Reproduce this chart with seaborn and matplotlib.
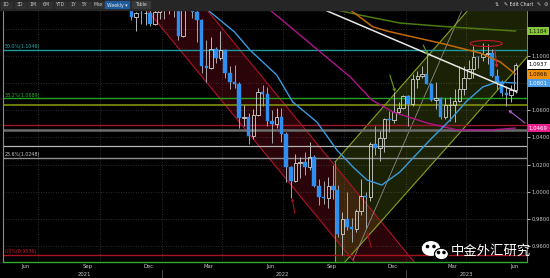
import matplotlib
matplotlib.use("Agg")
import matplotlib.pyplot as plt
import matplotlib.dates as mdates
from matplotlib.transforms import blended_transform_factory
from matplotlib.patches import Ellipse, Rectangle
import seaborn as sns
import numpy as np
import pandas as pd

# ---------------- data (EUR/USD weekly) ----------------
first_week = "2021-11-03"
opens = [1.1560, 1.1567, 1.1444, 1.1289, 1.1318, 1.1315, 1.1318, 1.1239, 1.1322,
         1.1370, 1.1359, 1.1411, 1.1345, 1.1146, 1.1456, 1.1349, 1.1322, 1.1268,
         1.0929, 1.0912, 1.1049, 1.0983, 1.1047, 1.0876, 1.0806, 1.0797, 1.0545,
         1.0552, 1.0412, 1.0563, 1.0733, 1.0720, 1.0518, 1.0496, 1.0553, 1.0423,
         1.0183, 1.0081, 1.0213, 1.0221, 1.0181, 1.0259, 1.0041, 0.9963, 0.9953,
         1.0043, 1.0014, 0.9690, 0.9802, 0.9740, 0.9723, 0.9861, 0.9965, 0.9958,
         1.0355, 1.0324, 1.0395, 1.0535, 1.0530, 1.0585, 1.0620, 1.0705, 1.0644,
         1.0830, 1.0856, 1.0868, 1.0796, 1.0678, 1.0694, 1.0548, 1.0636, 1.0640,
         1.0670, 1.0760, 1.0840, 1.0903, 1.0992, 1.0990, 1.1015, 1.1019, 1.0850,
         1.0805, 1.0724, 1.0709, 1.0750]
highs = [1.1616, 1.1607, 1.1465, 1.1325, 1.1383, 1.1355, 1.1360, 1.1362, 1.1386,
         1.1375, 1.1483, 1.1424, 1.1347, 1.1483, 1.1495, 1.1395, 1.1365, 1.1271,
         1.1121, 1.1137, 1.1069, 1.1185, 1.1054, 1.0924, 1.0936, 1.0805, 1.0641,
         1.0579, 1.0609, 1.0765, 1.0787, 1.0774, 1.0601, 1.0614, 1.0615, 1.0437,
         1.0186, 1.0279, 1.0254, 1.0294, 1.0368, 1.0272, 1.0090, 1.0079, 1.0112,
         1.0198, 1.0051, 0.9854, 0.9999, 0.9809, 0.9876, 1.0094, 1.0000, 1.0364,
         1.0481, 1.0448, 1.0545, 1.0595, 1.0736, 1.0660, 1.0714, 1.0713, 1.0868,
         1.0887, 1.0929, 1.1033, 1.0804, 1.0805, 1.0695, 1.0691, 1.0701, 1.0760,
         1.0930, 1.0926, 1.0973, 1.1076, 1.1000, 1.1095, 1.1092, 1.1054, 1.0904,
         1.0820, 1.0779, 1.0787, 1.0950]
lows = [1.1513, 1.1432, 1.1264, 1.1186, 1.1235, 1.1226, 1.1222, 1.1230, 1.1275,
        1.1272, 1.1313, 1.1286, 1.1121, 1.1140, 1.1340, 1.1281, 1.1106, 1.0878,
        1.0806, 1.0903, 1.0945, 1.0970, 1.0836, 1.0757, 1.0762, 1.0470, 1.0483,
        1.0349, 1.0389, 1.0558, 1.0628, 1.0485, 1.0359, 1.0469, 1.0366, 1.0072,
        0.9952, 1.0074, 1.0098, 1.0123, 1.0160, 1.0034, 0.9900, 0.9910, 0.9877,
        0.9944, 0.9669, 0.9536, 0.9717, 0.9632, 0.9705, 0.9826, 0.9730, 0.9935,
        1.0271, 1.0223, 1.0290, 1.0443, 1.0505, 1.0576, 1.0613, 1.0483, 1.0635,
        1.0766, 1.0835, 1.0795, 1.0669, 1.0613, 1.0533, 1.0533, 1.0524, 1.0516,
        1.0662, 1.0712, 1.0832, 1.0836, 1.0909, 1.0964, 1.0942, 1.0848, 1.0760,
        1.0702, 1.0635, 1.0664, 1.0725]
closes = [1.1567, 1.1444, 1.1289, 1.1318, 1.1315, 1.1318, 1.1239, 1.1322, 1.1370,
          1.1359, 1.1411, 1.1345, 1.1146, 1.1456, 1.1349, 1.1322, 1.1268, 1.0929,
          1.0912, 1.1049, 1.0983, 1.1047, 1.0876, 1.0806, 1.0797, 1.0545, 1.0552,
          1.0412, 1.0563, 1.0733, 1.0720, 1.0518, 1.0496, 1.0553, 1.0423, 1.0183,
          1.0081, 1.0213, 1.0221, 1.0181, 1.0259, 1.0041, 0.9963, 0.9953, 1.0043,
          1.0014, 0.9690, 0.9802, 0.9740, 0.9723, 0.9861, 0.9965, 0.9958, 1.0355,
          1.0324, 1.0395, 1.0535, 1.0530, 1.0585, 1.0620, 1.0705, 1.0644, 1.0830,
          1.0856, 1.0868, 1.0796, 1.0678, 1.0694, 1.0548, 1.0636, 1.0640, 1.0670,
          1.0760, 1.0840, 1.0903, 1.0992, 1.0990, 1.1015, 1.1019, 1.0850, 1.0805,
          1.0724, 1.0709, 1.0750, 1.0937]

# Fibonacci retracement levels
fib_levels = [1.1046, 1.0689, 1.0248, 0.9536]
fib_labels = ["50.0%(1.1046)", "38.2%(1.0689)", "23.6%(1.0248)", "0.0%(0.9536)"]
# other horizontal support / resistance lines
hline_levels = [1.0639, 1.0492, 1.0455, 1.0337]

# moving averages
ma_blue_dates = ["2022-02-27", "2022-03-11", "2022-04-20", "2022-05-13", "2022-06-22",
                 "2022-07-16", "2022-08-21", "2022-09-20", "2022-10-14", "2022-11-04",
                 "2022-11-26", "2022-12-23", "2023-02-06", "2023-03-08", "2023-04-02",
                 "2023-04-26", "2023-05-17", "2023-06-14"]
ma_blue_vals = [1.1413, 1.1339, 1.1177, 1.1044, 1.0860, 1.0661, 1.0514, 1.0307, 1.0182,
                1.0086, 1.0049, 1.0145, 1.0381, 1.0528, 1.0668, 1.0772, 1.0808, 1.0801]
ma_orange_dates = ["2022-10-10", "2022-11-13", "2022-12-04", "2022-12-23", "2023-02-21",
                   "2023-04-22", "2023-05-22", "2023-06-14"]
ma_orange_vals = [1.1339, 1.1214, 1.1184, 1.1162, 1.1096, 1.1022, 1.0956, 1.0866]
ma_magenta_dates = ["2022-06-12", "2022-10-10", "2022-11-11", "2022-12-13", "2023-02-02",
                    "2023-03-19", "2023-05-07", "2023-06-14"]
ma_magenta_vals = [1.1339, 1.0845, 1.0676, 1.0587, 1.0506, 1.0455, 1.0455, 1.0469]
ma_green_dates = ["2022-09-20", "2022-10-24", "2022-12-23", "2023-03-08", "2023-06-14"]
ma_green_vals = [1.1339, 1.1302, 1.1243, 1.1214, 1.1184]

# trend line & channels (anchor points)
trend_dates = ["2022-09-02", "2023-06-16"]
trend_vals = [1.1339, 1.0735]
red_lower_dates = ["2021-12-25", "2022-10-05"]
red_lower_vals = [1.12506, 0.95483]
red_upper_dates = ["2022-03-10", "2022-12-26"]
red_upper_vals = [1.1339, 0.95925]
green_upper_dates = ["2022-09-17", "2023-04-04"]
green_upper_vals = [1.02189, 1.1339]
green_lower_dates = ["2022-10-10", "2023-07-05"]
green_lower_vals = [0.95262, 1.10147]
green_mid_dates = ["2022-10-14", "2023-03-26"]
green_mid_vals = [0.94967, 1.1339]

# price tags on the right axis
tag_values = [1.1184, 1.0937, 1.0866, 1.0801, 1.0469]
y_ticks = [0.96, 0.98, 1.00, 1.02, 1.04, 1.06, 1.08, 1.10, 1.12]
y_tick_labels = ["0.9600", "0.9800", "1.0000", "1.0200", "1.0400", "1.0600", "", "1.1000", ""]
month_labels = ["Jun", "Sep", "Dec", "Mar", "Jun", "Sep", "Dec", "Mar", "Jun"]
month_dates = ["2021-06-12", "2021-09-12", "2021-12-12", "2022-03-12", "2022-06-12",
               "2022-09-12", "2022-12-12", "2023-03-12", "2023-06-12"]
year_labels = ["2021", "2022", "2023"]
year_dates = ["2021-09-08", "2022-06-30", "2023-04-01"]
grid_dates = ["2021-07-01", "2021-10-01", "2022-01-01", "2022-04-01", "2022-07-01",
              "2022-10-01", "2023-01-01", "2023-04-01"]
year_sep_dates = ["2022-01-01", "2023-01-01"]

# ---------------- style ----------------
sns.set_style("dark", {"axes.facecolor": "black", "figure.facecolor": "black"})
plt.rcParams["font.family"] = ["DejaVu Sans"]

def dn(lst):
    return mdates.date2num(pd.to_datetime(lst))

fig = plt.figure(figsize=(5.5, 2.78), dpi=100, facecolor="black")
ax = fig.add_axes([3 / 550, 16 / 278, 524 / 550, 252 / 278])
ax.set_facecolor("black")
ax.set_xlim(dn(["2021-05-09"])[0], dn(["2023-07-01"])[0])
ax.set_ylim(0.94820, 1.13390)
x0, x1 = ax.get_xlim()

# grid
ax.set_xticks(dn(grid_dates))
ax.set_xticklabels([])
ax.tick_params(axis="x", length=0)
ax.set_yticks(y_ticks)
ax.yaxis.tick_right()
ax.set_yticklabels(y_tick_labels)
ax.tick_params(axis="y", length=2, width=0.6, color="#d0d0d0", labelsize=3.8,
               labelcolor="#c8c8c8", pad=1)
ax.grid(True, color="#3a3a3a", linestyle=(0, (1, 2)), linewidth=0.6)
ax.spines["top"].set_visible(False)
ax.spines["left"].set_color("#8a8a8a")
ax.spines["left"].set_linewidth(0.8)
ax.spines["right"].set_color("#9a9a9a")
ax.spines["right"].set_linewidth(0.6)
ax.spines["bottom"].set_color("#2fa82f")
ax.spines["bottom"].set_linewidth(1.0)

def line_through(dates, vals, xa, xb):
    d = dn(dates)
    slope = (vals[1] - vals[0]) / (d[1] - d[0])
    xs = np.array([xa, xb])
    return xs, vals[0] + slope * (xs - d[0])

# red descending channel
xs, lo = line_through(red_lower_dates, red_lower_vals, dn(["2021-11-01"])[0], dn(["2023-02-01"])[0])
_, hi = line_through(red_upper_dates, red_upper_vals, xs[0], xs[1])
ax.fill_between(xs, lo, hi, color="#c0142c", alpha=0.22, lw=0, zorder=1)
ax.plot(xs, lo, color="#b0122a", lw=0.8, zorder=2)
ax.plot(xs, hi, color="#b0122a", lw=0.8, zorder=2)

# green ascending channel
gstart = dn(green_upper_dates)[0]
xs, gup = line_through(green_upper_dates, green_upper_vals, gstart, x1 + 20)
_, glo = line_through(green_lower_dates, green_lower_vals, gstart, x1 + 20)
ax.fill_between(xs, glo, gup, color="#8aa61c", alpha=0.2, lw=0, zorder=1)
ax.plot(xs, gup, color="#86a41c", lw=0.8, zorder=2)
ax.plot(xs, glo, color="#86a41c", lw=0.8, zorder=2)
ax.plot([gstart, gstart], [glo[0], gup[0]], color="#86a41c", lw=0.8, zorder=2)
xm, gm = line_through(green_mid_dates, green_mid_vals, dn(green_mid_dates)[0], dn(["2023-04-15"])[0])
ax.plot(xm, gm, color="#8c8c8c", lw=0.6, zorder=2)

# horizontal lines
fib_colors = ["#1c9c9c", "#22a022", "#8e8e8e", "#a8121e"]
for lv, col in zip(fib_levels, fib_colors):
    ax.axhline(lv, color=col, lw=1.0, zorder=2)
h_colors = ["#80900c", "#a0142c", "#6c6c6c", "#b4b4b4"]
h_widths = [1.2, 1.0, 1.8, 0.9]
for lv, col, lw in zip(hline_levels, h_colors, h_widths):
    ax.axhline(lv, color=col, lw=lw, zorder=2)
btrans = blended_transform_factory(ax.transAxes, ax.transData)
fib_text_colors = ["#22b0b0", "#2ab02a", "#c8c8c8", "#c8182a"]
for lv, lab, col in zip(fib_levels, fib_labels, fib_text_colors):
    ax.annotate(lab, xy=(0.003, lv), xycoords=btrans, xytext=(0, 0.5),
                textcoords="offset points", fontsize=3.4, color=col, va="bottom", ha="left", zorder=3)

# candles
d = dn(pd.date_range(first_week, periods=len(opens), freq="7D"))
o, h, l, c = map(np.array, (opens, highs, lows, closes))
up = c >= o
w = 5.2
ax.vlines(d[~up], l[~up], h[~up], color="#a8a8a8", lw=0.7, zorder=4)
ax.vlines(d[up], l[up], o[up], color="#b8b8b8", lw=0.7, zorder=4)
ax.vlines(d[up], c[up], h[up], color="#b8b8b8", lw=0.7, zorder=4)
ax.bar(d[~up], (o - c)[~up], bottom=c[~up], width=w, color="#2f8ff0", edgecolor="#2f8ff0",
       lw=0.3, zorder=5)
ax.bar(d[up], (c - o)[up], bottom=o[up], width=w, facecolor="none", edgecolor="#d4d4d4",
       lw=0.6, zorder=5)

# moving averages & trend line
sns.lineplot(x=dn(ma_green_dates), y=ma_green_vals, ax=ax, color="#4e7a10", lw=1.1, zorder=6)
sns.lineplot(x=dn(ma_magenta_dates), y=ma_magenta_vals, ax=ax, color="#b0148c", lw=1.0, zorder=6)
sns.lineplot(x=dn(ma_orange_dates), y=ma_orange_vals, ax=ax, color="#c26a08", lw=1.1, zorder=6)
sns.lineplot(x=dn(ma_blue_dates), y=ma_blue_vals, ax=ax, color="#3a9ae0", lw=1.0, zorder=6)
sns.lineplot(x=dn(trend_dates), y=trend_vals, ax=ax, color="#e8e8e8", lw=1.1, zorder=6)

# annotations
ax.add_patch(Ellipse((dn(["2023-05-01"])[0], 1.1092), 48, 0.0044, fill=False,
                     ec="#c0182a", lw=0.8, zorder=7))
def arrow(t, hd, col):
    ax.annotate("", xy=(dn([hd[0]])[0], hd[1]), xytext=(dn([t[0]])[0], t[1]),
                arrowprops=dict(arrowstyle="->", color=col, lw=0.8, shrinkA=0, shrinkB=0,
                                mutation_scale=4), zorder=7)
arrow(("2023-05-14", 1.1044), ("2023-05-17", 1.0912), "#d42038")
arrow(("2022-07-19", 0.9843), ("2022-07-15", 0.9954), "#a01020")
arrow(("2022-11-10", 0.9592), ("2022-11-04", 0.9703), "#a01020")
arrow(("2022-12-08", 1.0860), ("2022-12-16", 1.0735), "#6a9a1a")
arrow(("2023-01-27", 1.1081), ("2023-02-03", 1.1007), "#6a9a1a")
arrow(("2023-06-28", 1.0506), ("2023-06-03", 1.0602), "#b060c8")

# price tags
tag_colors = ["#86c440", "#ffffff", "#f0900a", "#4a9ee6", "#e8208e"]
tag_text = ["#102000", "#000000", "#201000", "#ffffff", "#ffffff"]
for v, fc, tc in zip(tag_values, tag_colors, tag_text):
    ax.text(1.0035, v, f"{v:.4f}", transform=btrans, fontsize=3.9, color=tc, va="center",
            ha="left", clip_on=False, zorder=10,
            bbox=dict(boxstyle="square,pad=0.35", fc=fc, ec="none"))

# x labels
xtrans = blended_transform_factory(ax.transData, ax.transAxes)
for lab, dt in zip(month_labels, dn(month_dates)):
    ax.text(dt, -0.019, lab, transform=xtrans, fontsize=3.8, color="#c8c8c8",
            ha="center", va="center", clip_on=False)
for lab, dt in zip(year_labels, dn(year_dates)):
    ax.text(dt, -0.048, lab, transform=xtrans, fontsize=3.8, color="#c8c8c8",
            ha="center", va="center", clip_on=False)
for dt in dn(year_sep_dates):
    ax.plot([dt, dt], [-0.032, -0.065], transform=xtrans, color="#555555", lw=0.6, clip_on=False)

# ---------------- overlay (toolbar + watermark) ----------------
ov = fig.add_axes([0, 0, 1, 1], zorder=20)
ov.set_xlim(0, 550)
ov.set_ylim(278, 0)
ov.axis("off")
ov.patch.set_alpha(0)
ov.add_patch(Rectangle((0, 0), 550, 9.5, color="#262626"))
btns = [("1D", 6), ("3D", 20), ("1M", 33), ("6M", 46), ("YTD", 60), ("1Y", 73), ("5Y", 85), ("Max", 98)]
for t, x in btns:
    ov.add_patch(Rectangle((x - 5.5, 1.5), 11, 6.5, color="#303030"))
    ov.text(x, 5, t, fontsize=3.3, color="#c8c8c8", ha="center", va="center")
ov.add_patch(Rectangle((105, 1.2), 24, 7, color="#1e5a9c"))
ov.text(117, 5, "Weekly \u25be", fontsize=3.3, color="#e8e8e8", ha="center", va="center")
ov.add_patch(Rectangle((132, 1.2), 18, 7, color="#3a3a3a"))
ov.text(141, 5, "Table", fontsize=3.3, color="#d0d0d0", ha="center", va="center")
ov.text(497, 5, "\u21c5", fontsize=3.6, color="#c8c8c8", ha="center", va="center")
ov.text(519, 5, "\u270e Edit Chart", fontsize=3.4, color="#e0e0e0", ha="center", va="center")
ov.text(539, 5, "\u270e", fontsize=3.6, color="#c8c8c8", ha="center", va="center")
ov.text(546, 5, "\u2699", fontsize=3.6, color="#c8c8c8", ha="center", va="center")

# watermark
ov.add_patch(Ellipse((431, 248.5), 17, 13.5, color="white", zorder=21))
ov.add_patch(Ellipse((441.5, 254), 14, 11.5, fc="white", ec="black", lw=0.9, zorder=22))
for ex, ey, zz in [(427.5, 246.5, 23), (434, 246.5, 23), (438.5, 252.5, 23), (444, 252.5, 23)]:
    ov.add_patch(Ellipse((ex, ey), 2.2, 2.2, color="black", zorder=zz))
ov.text(491, 250.5, "中金外汇研究", fontsize=9.6, color="white", ha="center", va="center",
        family=["Noto Sans CJK SC", "DejaVu Sans"], zorder=24)

fig.savefig("out.png", dpi=100, facecolor="black")
